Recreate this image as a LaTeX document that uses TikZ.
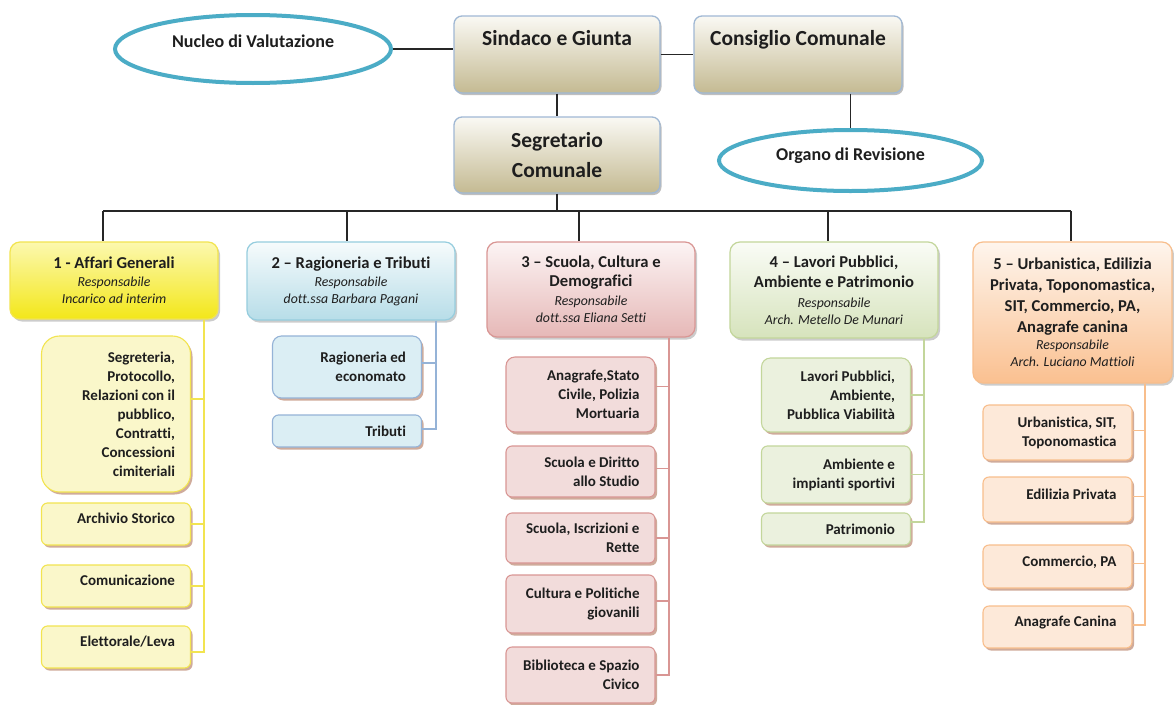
\documentclass[tikz,border=0pt]{standalone}
\usepackage{fontspec}
\setmainfont{Carlito}[Ligatures=NoCommon]
\usetikzlibrary{shapes.geometric,shadows}
\hyphenpenalty=10000
\exhyphenpenalty=10000
\definecolor{topborder}{RGB}{160,184,212}
\definecolor{toptop}{RGB}{250,249,244}
\definecolor{topbot}{RGB}{196,186,146}
\definecolor{ovalc}{RGB}{75,172,198}
\definecolor{ytop}{RGB}{252,248,175}
\definecolor{ybot}{RGB}{243,231,25}
\definecolor{yline}{RGB}{242,228,80}
\definecolor{yfill}{RGB}{250,247,202}
\definecolor{btop}{RGB}{246,251,252}
\definecolor{bbot}{RGB}{183,221,232}
\definecolor{bhead}{RGB}{150,205,222}
\definecolor{bline}{RGB}{149,179,215}
\definecolor{bfill}{RGB}{219,238,244}
\definecolor{ptop}{RGB}{252,244,244}
\definecolor{pbot}{RGB}{230,184,183}
\definecolor{pline}{RGB}{217,150,148}
\definecolor{pfill}{RGB}{242,220,219}
\definecolor{gtop}{RGB}{250,252,246}
\definecolor{gbot}{RGB}{214,227,188}
\definecolor{gline}{RGB}{195,214,155}
\definecolor{gfill}{RGB}{235,241,222}
\definecolor{otop}{RGB}{254,245,237}
\definecolor{obot}{RGB}{250,192,144}
\definecolor{oline}{RGB}{248,190,140}
\definecolor{ofill}{RGB}{253,233,217}
\definecolor{shadc}{RGB}{196,150,130}
\definecolor{txt}{RGB}{30,30,30}
\newcommand\hdbold[1]{{\upshape\bfseries\fontsize{16.6}{20}\selectfont #1}}
\begin{document}
\begin{tikzpicture}[x=1pt,y=-1pt,
  every node/.style={text=txt},
  topbox/.style={rounded corners=8pt, draw=topborder, line width=1.3pt,
    top color=toptop, bottom color=topbot, inner sep=0pt, align=center,
    font=\fontsize{21.5}{30}\selectfont\bfseries,
    drop shadow={shadow xshift=1.5pt, shadow yshift=-2pt, fill=black, opacity=0.25}},
  oval/.style={ellipse, draw=ovalc, line width=4pt, fill=white, inner sep=0pt,
    font=\fontsize{18}{20}\selectfont\bfseries},
  hdr/.style={rounded corners=10pt, line width=1.2pt, inner sep=0pt, align=center,
    font=\fontsize{13.8}{17}\selectfont\itshape,
    drop shadow={shadow xshift=2pt, shadow yshift=-2.5pt, fill=black, opacity=0.2}},
  hdr1/.style={hdr, draw=yline, top color=ytop, bottom color=ybot},
  hdr2/.style={hdr, draw=bhead, top color=btop, bottom color=bbot},
  hdr3/.style={hdr, draw=pline, top color=ptop, bottom color=pbot},
  hdr4/.style={hdr, draw=gline, top color=gtop, bottom color=gbot},
  hdr5/.style={hdr, draw=oline, top color=otop, bottom color=obot},
  child/.style={rounded corners=6pt, line width=1.1pt, inner ysep=0pt, inner xsep=15.5pt,
    text width=118pt, align=flush right, font=\fontsize{15}{19}\selectfont\bfseries,
    drop shadow={shadow xshift=2pt, shadow yshift=-2.5pt, fill=shadc, opacity=0.8}},
  ch1/.style={child, draw=yline, fill=yfill},
  ch2/.style={child, draw=bline, fill=bfill},
  ch3/.style={child, draw=pline, fill=pfill},
  ch4/.style={child, draw=gline, fill=gfill},
  ch5/.style={child, draw=oline, fill=ofill},
  oneline/.style={text height=11pt, text depth=12pt},
  link/.style={draw=black!85, line width=1.3pt},
  l1/.style={draw=yline, line width=1.8pt},
  l2/.style={draw=bline, line width=1.8pt},
  l3/.style={draw=pline, line width=1.8pt},
  l4/.style={draw=gline, line width=1.8pt},
  l5/.style={draw=oline, line width=1.8pt}
]
\path[use as bounding box, fill=white] (0,0) rectangle (1174,704);

% top level
\node[topbox, minimum width=206pt, minimum height=77pt, text height=15pt, text depth=34pt] (sind) at (557,54.5) {Sindaco e Giunta};
\node[topbox, minimum width=208pt, minimum height=77pt, text height=15pt, text depth=34pt] (cons) at (798,54.5) {Consiglio Comunale};
\node[topbox, minimum width=206pt, minimum height=76pt] (seg) at (557,155) {Segretario\\Comunale};
\node[oval, minimum width=276pt, minimum height=68pt, text height=13pt, text depth=17pt] (nuc) at (253,49) {Nucleo di Valutazione};
\node[oval, minimum width=263pt, minimum height=61pt, text height=13pt, text depth=13pt] (org) at (850.5,160.5) {Organo di Revisione};

\draw[link] (nuc.east) -- (nuc.east -| sind.west);
\draw[link] (sind.east) -- (cons.west);
\draw[link] (sind.south) -- (seg.north);
\draw[link] (org.north |- cons.south) -- (org.north);

% headers
\node[hdr1, minimum width=208pt, minimum height=77pt] (h1) at (114,280.5)
  {\hdbold{1 - Affari Generali}\\[1pt] Responsabile\\ Incarico ad interim};
\node[hdr2, minimum width=208pt, minimum height=78pt] (h2) at (351,281)
  {\hdbold{2 – Ragioneria e Tributi}\\[1pt] Responsabile\\ dott.ssa Barbara Pagani};
\node[hdr3, minimum width=208pt, minimum height=95pt] (h3) at (591,289.5)
  {\hdbold{3 – Scuola, Cultura e}\\[2pt] \hdbold{Demografici}\\[2pt] Responsabile\\ dott.ssa Eliana Setti};
\node[hdr4, minimum width=208pt, minimum height=96pt] (h4) at (834,290)
  {\hdbold{4 – Lavori Pubblici,}\\[3pt] \hdbold{Ambiente e Patrimonio}\\[3pt] Responsabile\\ Arch. Metello De Munari};
\node[hdr5, minimum width=199pt, minimum height=141pt] (h5) at (1072.5,312.5)
  {\hdbold{5 – Urbanistica, Edilizia}\\[4pt] \hdbold{Privata, Toponomastica,}\\[4pt] \hdbold{SIT, Commercio, PA,}\\[4pt] \hdbold{Anagrafe canina}\\ Responsabile\\ Arch. Luciano Mattioli};

% bus
\coordinate (d1) at (103,211);
\coordinate (d2) at (347,211);
\coordinate (d3) at (579,211);
\coordinate (d4) at (828,211);
\coordinate (d5) at (1071,211);
\draw[link] (d1) -- (d5);
\draw[link] (seg.south) -- (seg.south |- d1);
\draw[link] (d1) -- (d1 |- h1.north);
\draw[link] (d2) -- (d2 |- h2.north);
\draw[link] (d3) -- (d3 |- h3.north);
\draw[link] (d4) -- (d4 |- h4.north);
\draw[link] (d5) -- (d5 |- h5.north);

% spines
\coordinate (s1) at (204,0);
\coordinate (s2) at (436,0);
\coordinate (s3) at (669,0);
\coordinate (s4) at (924,0);
\coordinate (s5) at (1145,0);

% group 1
\node[ch1, minimum height=156pt, rounded corners=18pt] (c11) at (116,414)
  {Segreteria,\\ Protocollo,\\ Relazioni con il\\ pubblico,\\ Contratti,\\ Concessioni\\ cimiteriali};
\node[ch1, oneline, minimum height=42pt] (c12) at (116,524) {Archivio Storico};
\node[ch1, oneline, minimum height=42pt] (c13) at (116,586) {Comunicazione};
\node[ch1, oneline, minimum height=42pt] (c14) at (116,647) {Elettorale/Leva};
\draw[l1] (h1.south -| s1) |- ([yshift=-5pt]c14.east);
\draw[l1] ([yshift=15pt]c11.east) -- ([yshift=15pt]c11.east -| s1);
\draw[l1] (c12.east) -- (c12.east -| s1);
\draw[l1] (c13.east) -- (c13.east -| s1);

% group 2
\node[ch2, minimum height=62pt, rounded corners=9pt] (c21) at (347,367) {Ragioneria ed\\ economato};
\node[ch2, minimum height=32pt] (c22) at (347,431) {Tributi};
\draw[l2] (h2.south -| s2) |- ([yshift=2pt]c22.east);
\draw[l2] ([yshift=4pt]c21.east) -- ([yshift=4pt]c21.east -| s2);

% group 3
\node[ch3, minimum height=75pt, rounded corners=9pt] (c31) at (580.5,394.5) {Anagrafe,Stato\\ Civile, Polizia\\ Mortuaria};
\node[ch3, minimum height=51pt] (c32) at (580.5,471.5) {Scuola e Diritto\\ allo Studio};
\node[ch3, minimum height=50pt] (c33) at (580.5,538) {Scuola, Iscrizioni e\\ Rette};
\node[ch3, minimum height=58pt] (c34) at (580.5,604) {Cultura e Politiche\\ giovanili};
\node[ch3, minimum height=56pt] (c35) at (580.5,675) {Biblioteca e Spazio\\ Civico};
\draw[l3] (h3.south -| s3) |- (c35.east);
\draw[l3] ([yshift=8pt]c31.east) -- ([yshift=8pt]c31.east -| s3);
\draw[l3] ([yshift=3pt]c32.east) -- ([yshift=3pt]c32.east -| s3);
\draw[l3] (c33.east) -- (c33.east -| s3);
\draw[l3] ([yshift=3pt]c34.east) -- ([yshift=3pt]c34.east -| s3);

% group 4
\node[ch4, minimum height=74pt, rounded corners=9pt] (c41) at (836,395) {Lavori Pubblici,\\ Ambiente,\\ Pubblica Viabilità};
\node[ch4, minimum height=57pt] (c42) at (836,474.5) {Ambiente e\\ impianti sportivi};
\node[ch4, minimum height=32pt] (c43) at (836,529) {Patrimonio};
\draw[l4] (h4.south -| s4) |- ([yshift=7pt]c43.east);
\draw[l4] (c41.east) -- (c41.east -| s4);
\draw[l4] (c42.east) -- (c42.east -| s4);

% group 5
\node[ch5, minimum height=55pt] (c51) at (1057.5,432.5) {Urbanistica, SIT,\\ Toponomastica};
\node[ch5, oneline, minimum height=45pt] (c52) at (1057.5,499.5) {Edilizia Privata};
\node[ch5, oneline, minimum height=43pt] (c53) at (1057.5,566.5) {Commercio, PA};
\node[ch5, oneline, minimum height=42pt] (c54) at (1057.5,627) {Anagrafe Canina};
\draw[l5] (h5.south -| s5) |- ([yshift=2pt]c54.east);
\draw[l5] ([yshift=2pt]c51.east) -- ([yshift=2pt]c51.east -| s5);
\draw[l5] ([yshift=3pt]c52.east) -- ([yshift=3pt]c52.east -| s5);
\draw[l5] ([yshift=3pt]c53.east) -- ([yshift=3pt]c53.east -| s5);
\end{tikzpicture}
\end{document}
